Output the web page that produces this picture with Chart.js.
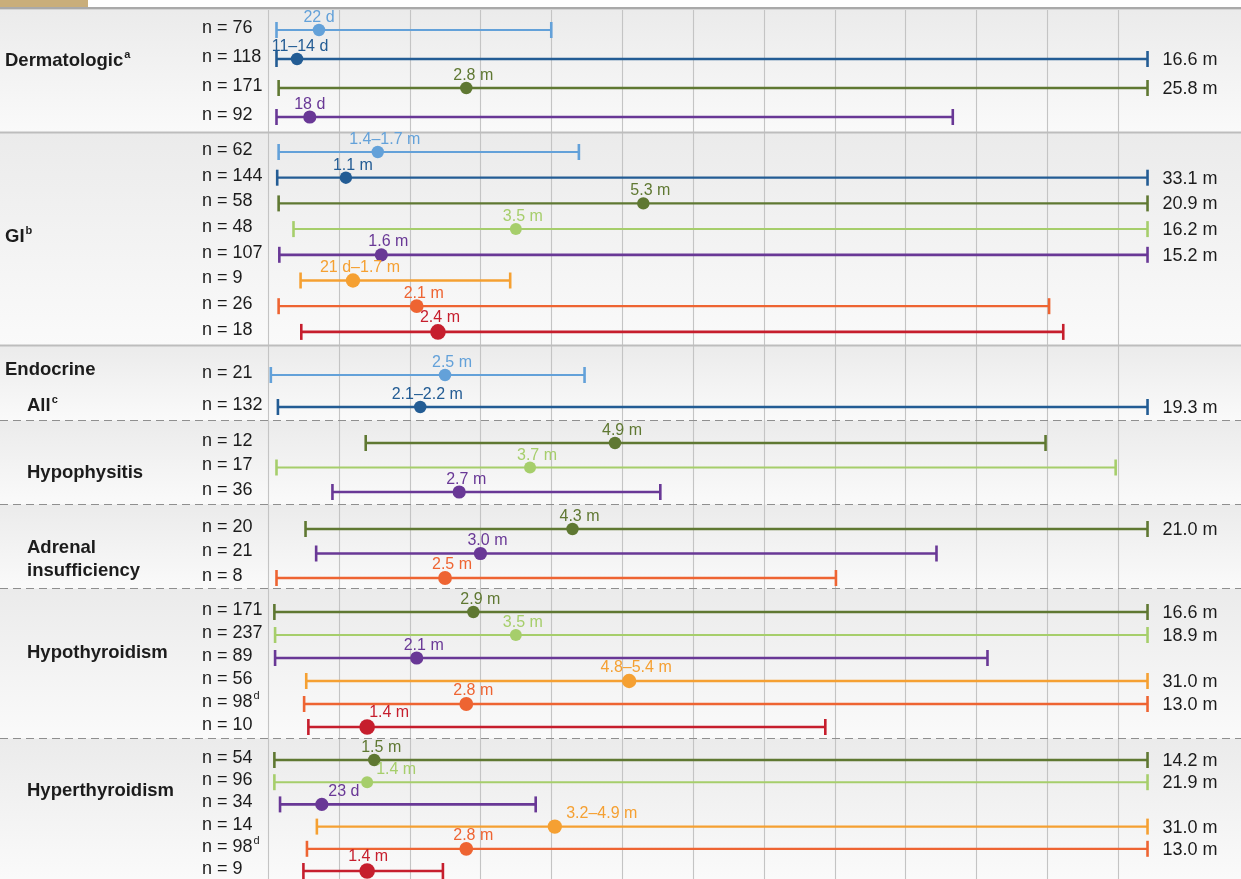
<!DOCTYPE html>
<html>
<head>
<meta charset="utf-8">
<script src="https://cdn.jsdelivr.net/npm/chart.js@4/dist/chart.umd.min.js"></script>
<style>
  html, body { margin: 0; padding: 0; background: #fff; overflow: hidden; }
  canvas { display: block; }
</style>
</head>
<body>
<canvas id="onset" width="1241" height="879"></canvas>
<script>
// Time to onset of immune-related adverse events, in months.
// Each row: earliest onset, median onset, latest onset.

const seriesKeys = ['blueLight', 'blueDark', 'olive', 'greenLight', 'purple', 'orange', 'orangeRed', 'red'];

const rowSeries = [0, 1, 2, 4,  0, 1, 2, 3, 4, 5, 6, 7,  0, 1,  2, 3, 4,  2, 4, 6,  2, 3, 4, 5, 6, 7,  2, 3, 4, 5, 6, 7];

const sampleSize = [76, 118, 171, 92,  62, 144, 58, 48, 107, 9, 26, 18,  21, 132,  12, 17, 36,  20, 21, 8,  171, 237, 89, 56, 98, 10,  54, 96, 34, 14, 98, 9];
const sampleNote = ['', '', '', '',  '', '', '', '', '', '', '', '',  '', '',  '', '', '',  '', '', '',  '', '', '', '', 'd', '',  '', '', '', '', 'd', ''];

const onsetMin = [0.12, 0.12, 0.15, 0.12,  0.15, 0.13, 0.15, 0.36, 0.16, 0.46, 0.15, 0.47,  0.04, 0.14,  1.38, 0.12, 0.91,  0.53, 0.68, 0.12,  0.09, 0.10, 0.10, 0.54, 0.51, 0.57,  0.09, 0.09, 0.17, 0.69, 0.55, 0.50];
const onsetMedian = [0.72, 0.41, 2.8, 0.59,  1.55, 1.1, 5.3, 3.5, 1.6, 1.2, 2.1, 2.4,  2.5, 2.15,  4.9, 3.7, 2.7,  4.3, 3.0, 2.5,  2.9, 3.5, 2.1, 5.1, 2.8, 1.4,  1.5, 1.4, 0.76, 4.05, 2.8, 1.4];
const onsetMax = [4.0, 16.6, 25.8, 9.67,  4.39, 33.1, 20.9, 16.2, 15.2, 3.42, 11.03, 11.23,  4.47, 19.3,  10.98, 11.97, 5.54,  21.0, 9.44, 8.02,  16.6, 18.9, 10.16, 31.0, 13.0, 7.87,  14.2, 21.9, 3.78, 31.0, 13.0, 2.47];
const medianText = ['22 d', '11–14 d', '2.8 m', '18 d',
  '1.4–1.7 m', '1.1 m', '5.3 m', '3.5 m', '1.6 m', '21 d–1.7 m', '2.1 m', '2.4 m',
  '2.5 m', '2.1–2.2 m',
  '4.9 m', '3.7 m', '2.7 m',
  '4.3 m', '3.0 m', '2.5 m',
  '2.9 m', '3.5 m', '2.1 m', '4.8–5.4 m', '2.8 m', '1.4 m',
  '1.5 m', '1.4 m', '23 d', '3.2–4.9 m', '2.8 m', '1.4 m'];

const groupText = [
  { text: 'Dermatologic', sup: 'a', indent: 0, at: 61 },
  { text: 'GI', sup: 'b', indent: 0, at: 237 },
  { text: 'Endocrine', sup: '', indent: 0, at: 370 },
  { text: 'All', sup: 'c', indent: 1, at: 406 },
  { text: 'Hypophysitis', sup: '', indent: 1, at: 473 },
  { text: 'Adrenal', sup: '', indent: 1, at: 548 },
  { text: 'insufficiency', sup: '', indent: 1, at: 571 },
  { text: 'Hypothyroidism', sup: '', indent: 1, at: 653 },
  { text: 'Hyperthyroidism', sup: '', indent: 1, at: 791 }
];

// ---- styling / layout ----
const palette = {
  blueLight: '#63a1d9', blueDark: '#235c94', olive: '#5f7832', greenLight: '#a6ce6b',
  purple: '#693896', orange: '#f5a032', orangeRed: '#ee6432', red: '#c61e2d'
};
const dotRadius = { blueLight: 6.2, blueDark: 6.2, olive: 6.2, greenLight: 6, purple: 6.6, orange: 7.2, orangeRed: 6.9, red: 7.8 };
const lineWidth = { blueLight: 2, blueDark: 2.3, olive: 2.3, greenLight: 2, purple: 2.7, orange: 2.3, orangeRed: 2.3, red: 2.7 };

const AXIS_LIMIT = 12;      // last gridline (months)
const BREAK_AT = 12.42;     // where ranges beyond the axis are cut
const X_MAX = 13.74;

// vertical track layout: [rows, first row position, row pitch]
const blocks = [[4, 30, 29], [8, 152, 25.7], [2, 375, 32], [3, 443, 24.5], [3, 529, 24.5], [6, 612, 23], [6, 760, 22.2]];
const rowPos = [];
blocks.forEach(([n, first, pitch]) => { for (let i = 0; i < n; i++) rowPos.push(first + i * pitch); });

const bands = [10, 132.5, 345.5, 420.5, 504.5, 588.5, 738.5, 879];
const solidRules = [132.5, 345.5];
const dashedRules = [420.5, 504.5, 588.5, 738.5];

const labelShift = { 0: 0, 1: 3, 3: 0, 11: 2, 25: 22, 27: 29, 28: 22, 29: 47, 31: 1 };

const FONT = '"Liberation Sans", Arial, Helvetica, sans-serif';

// ---- datasets ----
const rangeSets = rowSeries.map((s, i) => {
  const c = palette[seriesKeys[s]];
  return {
    type: 'line',
    showLine: true,
    data: [{ x: onsetMin[i], y: rowPos[i] }, { x: Math.min(onsetMax[i], BREAK_AT), y: rowPos[i] }],
    borderColor: c,
    borderWidth: lineWidth[seriesKeys[s]],
    pointStyle: 'line',
    pointRotation: 90,
    pointRadius: 8,
    pointBorderWidth: 2.6,
    pointBorderColor: c,
    pointBackgroundColor: c,
    pointHoverRadius: 8,
    fill: false,
    clip: false,
    order: 1
  };
});

const medianSet = {
  type: 'scatter',
  data: onsetMedian.map((v, i) => ({ x: v, y: rowPos[i] })),
  backgroundColor: rowSeries.map(s => palette[seriesKeys[s]]),
  pointRadius: rowSeries.map(s => dotRadius[seriesKeys[s]]),
  pointHoverRadius: rowSeries.map(s => dotRadius[seriesKeys[s]]),
  borderWidth: 0,
  clip: false,
  order: 0
};

function textWithSup(ctx, text, sup, x, y, size, bold) {
  const w = bold ? 'bold ' : '';
  ctx.font = `${w}${size}px ${FONT}`;
  ctx.fillText(text, x, y);
  if (sup) {
    const tw = ctx.measureText(text).width;
    ctx.font = `${w}${Math.round(size * 0.62)}px ${FONT}`;
    ctx.fillText(sup, x + tw + 1, y - size * 0.33);
  }
}

const decor = {
  id: 'decor',
  beforeDraw(chart) {
    const { ctx, scales: { y } } = chart;
    const W = chart.width;
    ctx.save();
    ctx.fillStyle = '#ffffff';
    ctx.fillRect(0, 0, W, chart.height);
    for (let i = 0; i < bands.length - 1; i++) {
      const t = y.getPixelForValue(bands[i]), b = y.getPixelForValue(bands[i + 1]);
      const g = ctx.createLinearGradient(0, t, 0, b);
      g.addColorStop(0, '#ebebeb');
      g.addColorStop(1, '#fafafa');
      ctx.fillStyle = g;
      ctx.fillRect(0, t, W, b - t);
    }
    ctx.fillStyle = '#c9ae7b';
    ctx.fillRect(0, 0, 88, 7);
    ctx.restore();
  },
  beforeDatasetsDraw(chart) {
    const { ctx, chartArea, scales: { x, y } } = chart;
    const W = chart.width;
    ctx.save();
    // monthly gridlines
    ctx.strokeStyle = '#c4c4c4';
    ctx.lineWidth = 1.1;
    for (let m = 0; m <= AXIS_LIMIT; m++) {
      const p = Math.round(x.getPixelForValue(m)) + 0.5;
      ctx.beginPath(); ctx.moveTo(p, chartArea.top); ctx.lineTo(p, chartArea.bottom); ctx.stroke();
    }
    ctx.strokeStyle = '#a9a9a9';
    ctx.lineWidth = 2.6;
    ctx.beginPath(); ctx.moveTo(0, 8.2); ctx.lineTo(W, 8.2); ctx.stroke();
    ctx.strokeStyle = '#bdbdbd';
    ctx.lineWidth = 2.2;
    solidRules.forEach(v => {
      const p = y.getPixelForValue(v);
      ctx.beginPath(); ctx.moveTo(0, p); ctx.lineTo(W, p); ctx.stroke();
    });
    ctx.strokeStyle = '#8f8f8f';
    ctx.lineWidth = 1.2;
    ctx.setLineDash([8, 5]);
    dashedRules.forEach(v => {
      const p = y.getPixelForValue(v);
      ctx.beginPath(); ctx.moveTo(0, p); ctx.lineTo(W, p); ctx.stroke();
    });
    ctx.restore();
  },
  afterDatasetsDraw(chart) {
    const { ctx, scales: { x, y } } = chart;
    ctx.save();
    ctx.textBaseline = 'alphabetic';

    // median labels
    ctx.textAlign = 'center';
    ctx.font = `16px ${FONT}`;
    onsetMedian.forEach((v, i) => {
      const key = seriesKeys[rowSeries[i]];
      const px = x.getPixelForValue(v) + (labelShift[i] !== undefined ? labelShift[i] : 7);
      const py = y.getPixelForValue(rowPos[i]) - dotRadius[key] - 1.8;
      ctx.fillStyle = palette[key];
      ctx.fillText(medianText[i], px, py);
    });

    // values beyond the axis
    ctx.textAlign = 'left';
    ctx.textBaseline = 'middle';
    ctx.fillStyle = '#1c1c1c';
    ctx.font = `18px ${FONT}`;
    onsetMax.forEach((v, i) => {
      if (v <= AXIS_LIMIT) return;
      ctx.fillText(v.toFixed(1) + ' m', x.getPixelForValue(BREAK_AT) + 15, y.getPixelForValue(rowPos[i]) + 1);
    });

    // sample sizes
    sampleSize.forEach((n, i) => {
      textWithSup(ctx, 'n = ' + n, sampleNote[i], 202, y.getPixelForValue(rowPos[i]) - 2, 18, false);
    });

    // group names
    groupText.forEach(g => {
      textWithSup(ctx, g.text, g.sup, g.indent ? 27 : 5, y.getPixelForValue(g.at), 18.5, true);
    });
    ctx.restore();
  }
};

new Chart(document.getElementById('onset'), {
  type: 'scatter',
  data: { datasets: [medianSet, ...rangeSets] },
  options: {
    responsive: false,
    animation: false,
    devicePixelRatio: 1,
    layout: { autoPadding: false, padding: { left: 268, right: 0, top: 10, bottom: 0 } },
    plugins: { legend: { display: false }, tooltip: { enabled: false } },
    events: [],
    scales: {
      x: { type: 'linear', min: 0, max: X_MAX, display: false },
      y: { type: 'linear', min: 10, max: 879, reverse: true, display: false }
    }
  },
  plugins: [decor]
});
</script>
</body>
</html>
